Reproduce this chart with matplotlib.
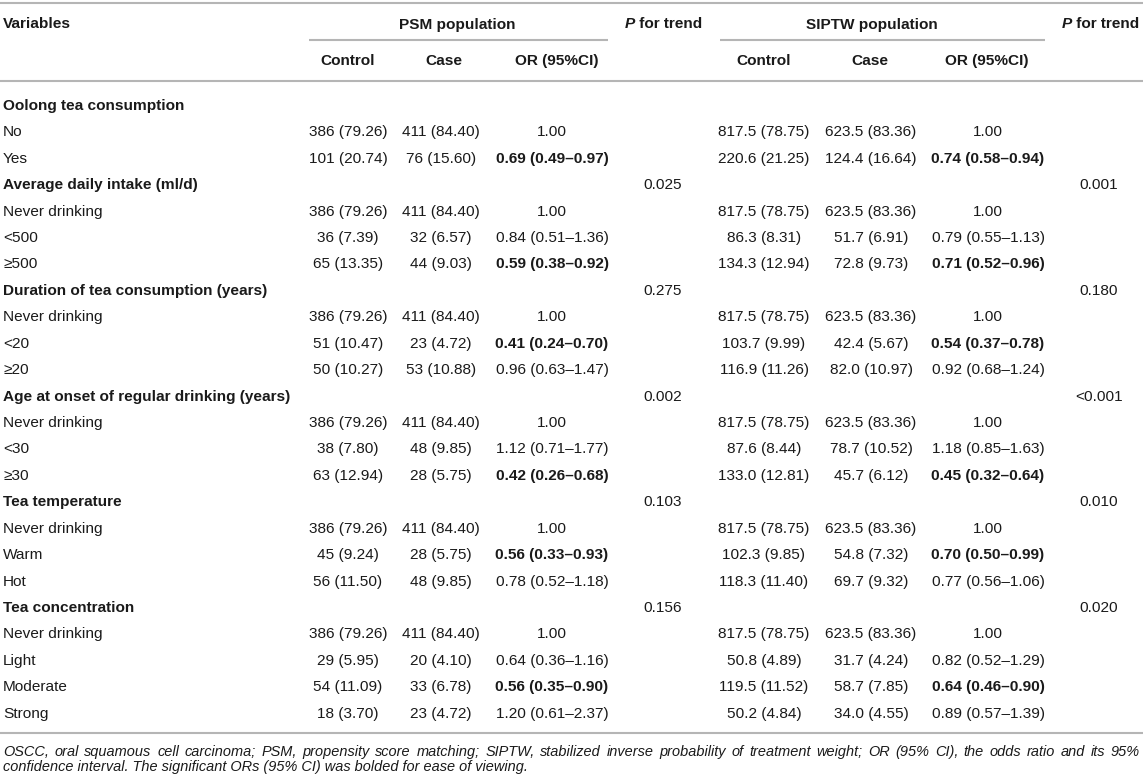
import matplotlib
matplotlib.use("Agg")
import matplotlib.pyplot as plt

# ---------------- data ----------------
variables = ["Oolong tea consumption", "No", "Yes",
             "Average daily intake (ml/d)", "Never drinking", "<500", "≥500",
             "Duration of tea consumption (years)", "Never drinking", "<20", "≥20",
             "Age at onset of regular drinking (years)", "Never drinking", "<30", "≥30",
             "Tea temperature", "Never drinking", "Warm", "Hot",
             "Tea concentration", "Never drinking", "Light", "Moderate", "Strong"]
is_group = [1, 0, 0, 1, 0, 0, 0, 1, 0, 0, 0, 1, 0, 0, 0, 1, 0, 0, 0, 1, 0, 0, 0, 0]

psm_control = ["", "386 (79.26)", "101 (20.74)", "", "386 (79.26)", "36 (7.39)", "65 (13.35)",
               "", "386 (79.26)", "51 (10.47)", "50 (10.27)", "", "386 (79.26)", "38 (7.80)", "63 (12.94)",
               "", "386 (79.26)", "45 (9.24)", "56 (11.50)", "", "386 (79.26)", "29 (5.95)", "54 (11.09)", "18 (3.70)"]
psm_case = ["", "411 (84.40)", "76 (15.60)", "", "411 (84.40)", "32 (6.57)", "44 (9.03)",
            "", "411 (84.40)", "23 (4.72)", "53 (10.88)", "", "411 (84.40)", "48 (9.85)", "28 (5.75)",
            "", "411 (84.40)", "28 (5.75)", "48 (9.85)", "", "411 (84.40)", "20 (4.10)", "33 (6.78)", "23 (4.72)"]
psm_or = ["", "1.00", "0.69 (0.49–0.97)", "", "1.00", "0.84 (0.51–1.36)", "0.59 (0.38–0.92)",
          "", "1.00", "0.41 (0.24–0.70)", "0.96 (0.63–1.47)", "", "1.00", "1.12 (0.71–1.77)", "0.42 (0.26–0.68)",
          "", "1.00", "0.56 (0.33–0.93)", "0.78 (0.52–1.18)", "", "1.00", "0.64 (0.36–1.16)", "0.56 (0.35–0.90)",
          "1.20 (0.61–2.37)"]
psm_bold = [0, 0, 1, 0, 0, 0, 1, 0, 0, 1, 0, 0, 0, 0, 1, 0, 0, 1, 0, 0, 0, 0, 1, 0]
psm_p = ["", "", "", "0.025", "", "", "", "0.275", "", "", "", "0.002", "", "", "",
         "0.103", "", "", "", "0.156", "", "", "", ""]

siptw_control = ["", "817.5 (78.75)", "220.6 (21.25)", "", "817.5 (78.75)", "86.3 (8.31)", "134.3 (12.94)",
                 "", "817.5 (78.75)", "103.7 (9.99)", "116.9 (11.26)", "", "817.5 (78.75)", "87.6 (8.44)",
                 "133.0 (12.81)", "", "817.5 (78.75)", "102.3 (9.85)", "118.3 (11.40)", "", "817.5 (78.75)",
                 "50.8 (4.89)", "119.5 (11.52)", "50.2 (4.84)"]
siptw_case = ["", "623.5 (83.36)", "124.4 (16.64)", "", "623.5 (83.36)", "51.7 (6.91)", "72.8 (9.73)",
              "", "623.5 (83.36)", "42.4 (5.67)", "82.0 (10.97)", "", "623.5 (83.36)", "78.7 (10.52)", "45.7 (6.12)",
              "", "623.5 (83.36)", "54.8 (7.32)", "69.7 (9.32)", "", "623.5 (83.36)", "31.7 (4.24)", "58.7 (7.85)",
              "34.0 (4.55)"]
siptw_or = ["", "1.00", "0.74 (0.58–0.94)", "", "1.00", "0.79 (0.55–1.13)", "0.71 (0.52–0.96)",
            "", "1.00", "0.54 (0.37–0.78)", "0.92 (0.68–1.24)", "", "1.00", "1.18 (0.85–1.63)", "0.45 (0.32–0.64)",
            "", "1.00", "0.70 (0.50–0.99)", "0.77 (0.56–1.06)", "", "1.00", "0.82 (0.52–1.29)", "0.64 (0.46–0.90)",
            "0.89 (0.57–1.39)"]
siptw_bold = [0, 0, 1, 0, 0, 0, 1, 0, 0, 1, 0, 0, 0, 0, 1, 0, 0, 1, 0, 0, 0, 0, 1, 0]
siptw_p = ["", "", "", "0.001", "", "", "", "0.180", "", "", "", "<0.001", "", "", "",
           "0.010", "", "", "", "0.020", "", "", "", ""]

header_groups = ["PSM population", "SIPTW population"]
header_cols = ["Control", "Case", "OR (95%CI)"]
footnote_line1 = ("OSCC, oral squamous cell carcinoma; PSM, propensity score matching; SIPTW, stabilized "
                  "inverse probability of treatment weight; OR (95% CI), the odds ratio and its 95%")
footnote_line2 = "confidence interval. The significant ORs (95% CI) was bolded for ease of viewing."

# ---------------- layout ----------------
W, H = 1143, 780
FAM = ["Liberation Sans", "DejaVu Sans"]
TXT = "#1a1a1a"
LINE = "#b5b5b5"
FS = 11.1  # pt  (~15.4 px)

fig = plt.figure(figsize=(W / 100, H / 100), dpi=100)
ax = fig.add_axes([0, 0, 1, 1])
ax.set_xlim(0, W)
ax.set_ylim(H, 0)
ax.axis("off")
renderer = fig.canvas.get_renderer()


def put(x, y, s, ha="center", weight="normal", style="normal", size=FS):
    return ax.text(x, y, s, ha=ha, va="baseline", fontsize=size, fontweight=weight,
                   fontstyle=style, family=FAM, color=TXT)


def width(t):
    return t.get_window_extent(renderer).width


# rules
ax.plot([0, W], [3, 3], color=LINE, lw=1.5, solid_capstyle="butt")
ax.plot([309, 608], [40, 40], color=LINE, lw=1.5, solid_capstyle="butt")
ax.plot([720, 1045], [40, 40], color=LINE, lw=1.5, solid_capstyle="butt")
ax.plot([0, W], [81, 81], color=LINE, lw=1.5, solid_capstyle="butt")
ax.plot([0, W], [733, 733], color=LINE, lw=1.5, solid_capstyle="butt")

# headers
hb1, hb2 = 28.5, 65
put(3, hb1, "Variables", ha="left", weight="bold")
put(457, hb1, header_groups[0], weight="bold")
put(872, hb1, header_groups[1], weight="bold")
for cx, s in zip([348, 444, 557], header_cols):
    put(cx, hb2, s, weight="bold")
for cx, s in zip([764, 870, 987], header_cols):
    put(cx, hb2, s, weight="bold")


def p_header(cx):
    tp = put(0, hb1, "P", ha="left", weight="bold", style="italic")
    tr = put(0, hb1, " for trend", ha="left", weight="bold")
    wp, wr = width(tp), width(tr)
    x0 = cx - (wp + wr) / 2
    tp.set_x(x0)
    tr.set_x(x0 + wp)


p_header(663)
p_header(1100)

# body
y0, dy = 109.8, 26.43
for i, name in enumerate(variables):
    y = y0 + dy * i
    put(3, y, name, ha="left", weight="bold" if is_group[i] else "normal")
    put(348, y, psm_control[i])
    put(441, y, psm_case[i])
    put(552, y, psm_or[i], weight="bold" if psm_bold[i] else "normal")
    put(663, y, psm_p[i])
    put(764, y, siptw_control[i])
    put(871, y, siptw_case[i])
    put(988, y, siptw_or[i], weight="bold" if siptw_bold[i] else "normal")
    put(1099, y, siptw_p[i])

# footnote (line 1 justified)
probe = put(0, -100, footnote_line2, ha="left", style="italic", size=10)
fs_note = 10 * 524 / width(probe)
probe.remove()

words = footnote_line1.split(" ")
tw = [put(0, 756, w_, ha="left", style="italic", size=fs_note) for w_ in words]
ws = [width(t) for t in tw]
gap = (1140 - 3 - sum(ws)) / (len(words) - 1)
x = 3
for t, w_ in zip(tw, ws):
    t.set_x(x)
    x += w_ + gap
put(3, 771, footnote_line2, ha="left", style="italic", size=fs_note)

fig.savefig("out.png", dpi=100)
